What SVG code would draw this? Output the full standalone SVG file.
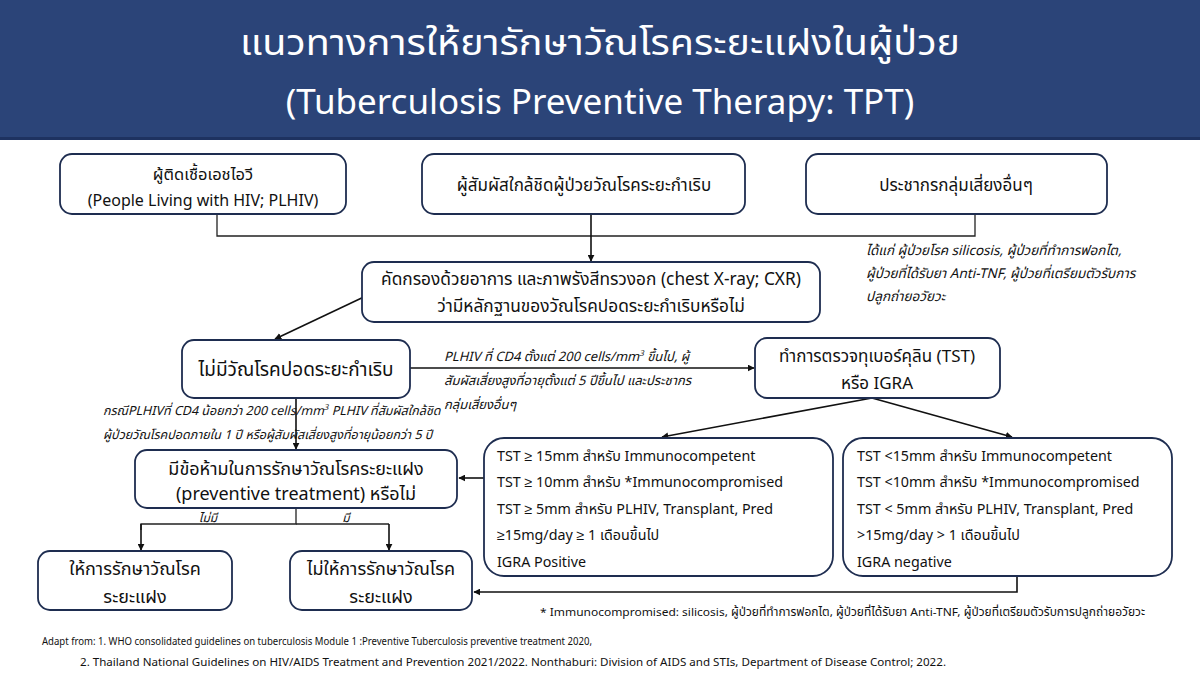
<svg xmlns="http://www.w3.org/2000/svg" width="1200" height="673" viewBox="0 0 1200 673">
<defs>
<style>
.t{font-family:"Noto Sans Thai","Noto Sans","Liberation Sans",sans-serif;fill:#111;}
.box{fill:#fff;stroke:#1e2d50;stroke-width:1.8;}
.ln{fill:none;stroke:#222;stroke-width:1.3;}
.arr{fill:none;stroke:#111;stroke-width:1.6;marker-end:url(#ah);}
.it{font-style:italic;font-size:13px;}
.m{text-anchor:middle;}
</style>
<marker id="ah" viewBox="0 0 10 10" refX="9" refY="5" markerWidth="7" markerHeight="7" orient="auto" markerUnits="userSpaceOnUse">
<path d="M0,0 L10,5 L0,10 z" fill="#111"/>
</marker>
</defs>
<rect width="1200" height="673" fill="#fff"/>
<g id="header">
<rect x="0" y="0" width="1200" height="140" fill="#2b4478"/>
<rect x="0" y="137" width="1200" height="3" fill="#1e3260"/>
<text class="t m" x="600" y="55" font-size="36" style="fill:#fff" textLength="720" lengthAdjust="spacingAndGlyphs">แนวทางการให้ยารักษาวัณโรคระยะแฝงในผู้ป่วย</text>
<text class="t m" x="600" y="114" font-size="35" style="fill:#fff">(Tuberculosis Preventive Therapy: TPT)</text>
</g>
<g id="connectors">
<polyline class="ln" points="217,214 217,236 975,236 975,214"/>
<line class="arr" x1="591" y1="214" x2="591" y2="261"/>
<line class="arr" x1="368" y1="295" x2="275" y2="339"/>
<line class="arr" x1="410" y1="368" x2="754" y2="368"/>
<line class="arr" x1="872" y1="398" x2="662" y2="437"/>
<line class="arr" x1="872" y1="398" x2="1012" y2="437"/>
<line class="arr" x1="296" y1="398" x2="296" y2="449"/>
<line class="arr" x1="484" y1="478" x2="459" y2="478"/>
<polyline class="ln" points="296,508 296,524 141,524 141,530"/>
<line class="arr" x1="141" y1="524" x2="141" y2="550"/>
<line class="ln" x1="296" y1="524" x2="389" y2="524"/>
<line class="arr" x1="389" y1="524" x2="389" y2="550"/>
<polyline class="arr" points="1017,576 1017,592 474,592"/>
<text class="t it m" x="208" y="522" style="font-size:12px">ไม่มี</text>
<text class="t it m" x="346" y="522" style="font-size:12px">มี</text>
<text class="t it" x="444" y="361">PLHIV ที่ CD4 ตั้งแต่ 200 cells/mm<tspan font-size="8" dy="-5">3</tspan><tspan dy="5"> ขึ้นไป, ผู้</tspan></text>
<text class="t it" x="444" y="385">สัมผัสเสี่ยงสูงที่อายุตั้งแต่ 5 ปีขึ้นไป และประชากร</text>
<text class="t it" x="444" y="409">กลุ่มเสี่ยงอื่นๆ</text>
<text class="t it" x="103" y="415" style="font-size:12.5px">กรณีPLHIVที่ CD4 น้อยกว่า 200 cells/mm<tspan font-size="8" dy="-5">3</tspan><tspan dy="5"> PLHIV ที่สัมผัสใกล้ชิด</tspan></text>
<text class="t it" x="103" y="439" style="font-size:12.5px">ผู้ป่วยวัณโรคปอดภายใน 1 ปี หรือผู้สัมผัสเสี่ยงสูงที่อายุน้อยกว่า 5 ปี</text>
</g>
<g id="plhiv">
<rect class="box" x="60" y="154" width="286" height="60" rx="12"/>
<text class="t m" x="203" y="180" font-size="16.5">ผู้ติดเชื้อเอชไอวี</text>
<text class="t m" x="203" y="206" font-size="16">(People Living with HIV; PLHIV)</text>
</g>
<g id="contacts">
<rect class="box" x="422" y="154" width="323" height="60" rx="12"/>
<text class="t m" x="584" y="191" font-size="17">ผู้สัมผัสใกล้ชิดผู้ป่วยวัณโรคระยะกำเริบ</text>
</g>
<g id="others">
<rect class="box" x="806" y="154" width="301" height="60" rx="12"/>
<text class="t m" x="956" y="191" font-size="17">ประชากรกลุ่มเสี่ยงอื่นๆ</text>
<text class="t it" x="866" y="255" style="font-size:13.5px">ได้แก่ ผู้ป่วยโรค silicosis, ผู้ป่วยที่ทำการฟอกไต,</text>
<text class="t it" x="866" y="278" style="font-size:13.5px">ผู้ป่วยที่ได้รับยา Anti-TNF, ผู้ป่วยที่เตรียมตัวรับการ</text>
<text class="t it" x="866" y="301" style="font-size:13.5px">ปลูกถ่ายอวัยวะ</text>
</g>
<g id="screen">
<rect class="box" x="362" y="262" width="458" height="60" rx="12"/>
<text class="t m" x="591" y="285" font-size="17.3">คัดกรองด้วยอาการ และภาพรังสีทรวงอก (chest X-ray; CXR)</text>
<text class="t m" x="591" y="312" font-size="17.3">ว่ามีหลักฐานของวัณโรคปอดระยะกำเริบหรือไม่</text>
</g>
<g id="noactive">
<rect class="box" x="182" y="340" width="228" height="58" rx="12"/>
<text class="t m" x="296" y="376" font-size="19">ไม่มีวัณโรคปอดระยะกำเริบ</text>
</g>
<g id="tst">
<rect class="box" x="755" y="338" width="245" height="60" rx="12"/>
<text class="t m" x="877" y="362" font-size="17">ทำการตรวจทุเบอร์คุลิน (TST)</text>
<text class="t m" x="877" y="389" font-size="17">หรือ IGRA</text>
</g>
<g id="contra">
<rect class="box" x="135" y="450" width="322" height="58" rx="12"/>
<text class="t m" x="296" y="475" font-size="18">มีข้อห้ามในการรักษาวัณโรคระยะแฝง</text>
<text class="t m" x="296" y="500" font-size="18">(preventive treatment) หรือไม่</text>
</g>
<g id="positive">
<rect class="box" x="484" y="438" width="349" height="138" rx="20"/>
<text class="t" x="497" y="461" font-size="14.3">TST ≥ 15mm สำหรับ Immunocompetent</text>
<text class="t" x="497" y="487" font-size="14.3">TST ≥ 10mm สำหรับ *Immunocompromised</text>
<text class="t" x="497" y="514" font-size="14.3">TST ≥ 5mm สำหรับ PLHIV, Transplant, Pred</text>
<text class="t" x="497" y="540" font-size="14.3">≥15mg/day ≥ 1 เดือนขึ้นไป</text>
<text class="t" x="497" y="567" font-size="14.3">IGRA Positive</text>
</g>
<g id="negative">
<rect class="box" x="843" y="438" width="329" height="138" rx="20"/>
<text class="t" x="857" y="461" font-size="14.3">TST &lt;15mm สำหรับ Immunocompetent</text>
<text class="t" x="857" y="487" font-size="14.3">TST &lt;10mm สำหรับ *Immunocompromised</text>
<text class="t" x="857" y="514" font-size="14.3">TST &lt; 5mm สำหรับ PLHIV, Transplant, Pred</text>
<text class="t" x="857" y="540" font-size="14.3">&gt;15mg/day &gt; 1 เดือนขึ้นไป</text>
<text class="t" x="857" y="567" font-size="14.3">IGRA negative</text>
</g>
<g id="give">
<rect class="box" x="38" y="551" width="194" height="59" rx="12"/>
<text class="t m" x="135" y="575" font-size="18">ให้การรักษาวัณโรค</text>
<text class="t m" x="135" y="603" font-size="18">ระยะแฝง</text>
</g>
<g id="nogive">
<rect class="box" x="290" y="551" width="182" height="59" rx="12"/>
<text class="t m" x="381" y="575" font-size="18">ไม่ให้การรักษาวัณโรค</text>
<text class="t m" x="381" y="603" font-size="18">ระยะแฝง</text>
</g>
<g id="notes">
<text class="t" x="540" y="616" font-size="11.5" textLength="605" lengthAdjust="spacingAndGlyphs">* Immunocompromised: silicosis, ผู้ป่วยที่ทำการฟอกไต, ผู้ป่วยที่ได้รับยา Anti-TNF, ผู้ป่วยที่เตรียมตัวรับการปลูกถ่ายอวัยวะ</text>
<text class="t" x="42" y="645" font-size="11" textLength="550" lengthAdjust="spacingAndGlyphs">Adapt from: 1. WHO consolidated guidelines on tuberculosis Module 1 :Preventive Tuberculosis preventive treatment 2020,</text>
<text class="t" x="80" y="666" font-size="11" textLength="866" lengthAdjust="spacingAndGlyphs">2. Thailand National Guidelines on HIV/AIDS Treatment and Prevention 2021/2022. Nonthaburi: Division of AIDS and STIs, Department of Disease Control; 2022.</text>
</g>
</svg>
